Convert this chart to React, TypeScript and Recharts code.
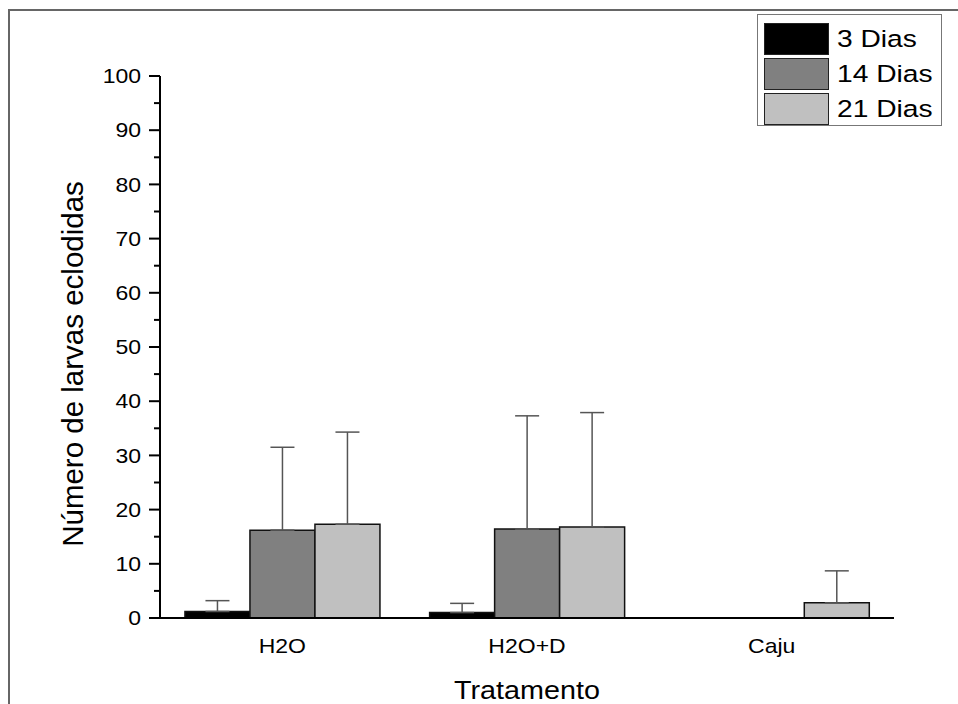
import { BarChart, Bar, XAxis, YAxis, ErrorBar, Label } from "recharts";

const CATEGORIES = ["H2O", "H2O+D", "Caju"];
const SERIES_NAMES = ["3 Dias", "14 Dias", "21 Dias"];
const SERIES_COLORS = ["#000000", "#808080", "#c0c0c0"];

// mean values
const DIAS_3 = [1.2, 1.0, 0];
const DIAS_14 = [16.2, 16.4, 0];
const DIAS_21 = [17.3, 16.8, 2.8];

// upper error (only the top whisker is drawn)
const ERR_3 = [2.0, 1.7, null];
const ERR_14 = [15.3, 20.9, null];
const ERR_21 = [17.0, 21.1, 5.9];

const Y_TICKS = [0, 5, 10, 15, 20, 25, 30, 35, 40, 45, 50, 55, 60, 65, 70, 75, 80, 85, 90, 95, 100];
const X_EDGE_TICKS = [0, 0.5, 1, 1.5, 2, 2.5, 3];

const FONT = "'Liberation Sans', Arial, sans-serif";
const STRETCH = 1.15;
const MAJOR = 11;
const MINOR = 6;
const GAP = 8;

const upper = (e: number | null) => (e == null ? null : [0, e]);

const data = CATEGORIES.map((name, i) => ({
    name,
    d3: DIAS_3[i],
    d14: DIAS_14[i],
    d21: DIAS_21[i],
    e3: upper(ERR_3[i]),
    e14: upper(ERR_14[i]),
    e21: upper(ERR_21[i]),
}));

const BAR_KEYS = ["d3", "d14", "d21"];
const ERR_KEYS = ["e3", "e14", "e21"];

function YTick(props: any) {
    const { x, y, payload } = props;
    const v = payload.value;
    const major = v % 10 === 0;
    const axisX = x + MAJOR + GAP;
    return (
        <g>
            <line
                x1={axisX - (major ? MAJOR : MINOR)}
                x2={axisX}
                y1={y}
                y2={y}
                stroke="#000"
                strokeWidth={2}
            />
            {major && (
                <text
                    transform={`translate(${x},${y}) scale(${STRETCH},1)`}
                    textAnchor="end"
                    dy="0.36em"
                    fontSize={20}
                    fontFamily={FONT}
                    fill="#000"
                >
                    {v}
                </text>
            )}
        </g>
    );
}

function XTick(props: any) {
    const { x, y, payload } = props;
    return (
        <text
            transform={`translate(${x},${y + 35}) scale(${STRETCH},1)`}
            textAnchor="middle"
            fontSize={20}
            fontFamily={FONT}
            fill="#000"
        >
            {payload.value}
        </text>
    );
}

function XTitle(props: any) {
    const { x, y, width } = props.viewBox;
    return (
        <text
            transform={`translate(${x + width / 2},${y + 81}) scale(${STRETCH},1)`}
            textAnchor="middle"
            fontSize={25}
            fontFamily={FONT}
            fill="#000"
        >
            Tratamento
        </text>
    );
}

function YTitle(props: any) {
    const { x, y, height } = props.viewBox;
    return (
        <text
            transform={`translate(${x + 3},${y + height / 2 + 17}) rotate(-90)`}
            textAnchor="middle"
            fontSize={29.5}
            fontFamily={FONT}
            fill="#000"
        >
            Número de larvas eclodidas
        </text>
    );
}

function LegendBox() {
    return (
        <div
            style={{
                position: "absolute",
                left: 757,
                top: 14,
                width: 185,
                height: 112,
                border: "1px solid #777",
                background: "#fff",
                padding: "6px 0 0 6px",
                boxSizing: "border-box",
                fontFamily: FONT,
            }}
        >
            {SERIES_NAMES.map((name, i) => (
                <div
                    key={name}
                    style={{ display: "flex", alignItems: "center", height: 35 }}
                >
                    <div
                        style={{
                            width: 63,
                            height: 30,
                            background: SERIES_COLORS[i],
                            border: "1.5px solid #222",
                        }}
                    />
                    <span
                        style={{
                            display: "inline-block",
                            marginLeft: 8,
                            fontSize: 24.5,
                            transform: `scaleX(${STRETCH})`,
                            transformOrigin: "left center",
                            whiteSpace: "nowrap",
                        }}
                    >
                        {name}
                    </span>
                </div>
            ))}
        </div>
    );
}

export default function App() {
    return (
        <div
            style={{
                position: "absolute",
                left: 0,
                top: 0,
                width: 958,
                height: 704,
                background: "#fff",
                overflow: "hidden",
            }}
        >
            {/* frame */}
            <div
                style={{
                    position: "absolute",
                    left: 8,
                    top: 9,
                    right: 0,
                    bottom: 0,
                    borderTop: "2px solid #666",
                    borderLeft: "2px solid #666",
                }}
            />
            <BarChart
                width={958}
                height={704}
                data={data}
                margin={{ top: 76, right: 64, bottom: 84, left: 80 }}
                barCategoryGap="10.2%"
                barGap={0}
                style={{ position: "absolute", left: 0, top: 0 }}
            >
                <XAxis
                    xAxisId="cat"
                    dataKey="name"
                    height={1}
                    axisLine={{ stroke: "#000", strokeWidth: 2 }}
                    tickLine={false}
                    tickSize={0}
                    tickMargin={0}
                    tick={<XTick />}
                    interval={0}
                >
                    <Label content={<XTitle />} />
                </XAxis>
                <XAxis
                    xAxisId="edges"
                    type="number"
                    domain={[0, 3]}
                    ticks={X_EDGE_TICKS}
                    height={1}
                    axisLine={false}
                    tick={false}
                    tickLine={{ stroke: "#000", strokeWidth: 2 }}
                    tickSize={MAJOR}
                    interval={0}
                />
                <YAxis
                    type="number"
                    domain={[0, 100]}
                    ticks={Y_TICKS}
                    interval={0}
                    width={80}
                    axisLine={{ stroke: "#000", strokeWidth: 2 }}
                    tickLine={false}
                    tickSize={MAJOR}
                    tickMargin={GAP}
                    tick={<YTick />}
                >
                    <Label content={<YTitle />} />
                </YAxis>
                {BAR_KEYS.map((key, i) => (
                    <Bar
                        key={key}
                        xAxisId="cat"
                        dataKey={key}
                        name={SERIES_NAMES[i]}
                        fill={SERIES_COLORS[i]}
                        stroke="#111"
                        strokeWidth={1.5}
                        isAnimationActive={false}
                    >
                        <ErrorBar
                            dataKey={ERR_KEYS[i]}
                            direction="y"
                            width={12}
                            stroke="#555"
                            strokeWidth={1.5}
                            isAnimationActive={false}
                        />
                    </Bar>
                ))}
            </BarChart>
            <LegendBox />
        </div>
    );
}
